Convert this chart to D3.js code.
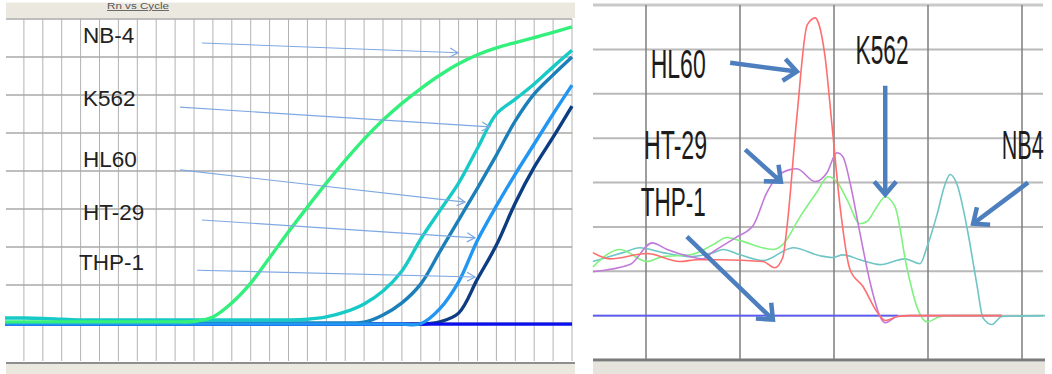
<!DOCTYPE html>
<html>
<head>
<meta charset="utf-8">
<script src="https://cdn.jsdelivr.net/npm/d3@7"></script>
<style>
body{margin:0;background:#fff}
svg{display:block}
</style>
</head>
<body>
<svg id="chart"></svg>
<script>
// ---- amplification plot (left) ----
var cycles = d3.range(0,31)
var ampNB4  = [1.03,1.03,1.03,1.03,1.03,1.03,1.03,1.03,1.03,1.03,1.04,1.16,1.53,2.05,2.72,3.4,4.05,4.68,5.28,5.84,6.34,6.78,7.17,7.52,7.82,8.06,8.24,8.38,8.51,8.65,8.79]
var ampK562 = [1.13,1.13,1.12,1.1,1.08,1.08,1.08,1.08,1.08,1.08,1.08,1.08,1.08,1.08,1.08,1.08,1.1,1.16,1.29,1.5,1.84,2.37,3.21,3.95,4.68,5.6,6.5,6.89,7.29,7.74,8.18]
var ampHL60 = [1,1,1,1,1,1,1,1,1,1,1,1,1,1,1,1,1,1,1,1.02,1.21,1.53,2.03,2.87,3.71,4.55,5.42,6.32,7.03,7.53,8.0]
var ampHT29 = [0.97,0.97,0.97,0.97,0.97,0.97,0.97,0.97,0.97,0.97,0.97,0.97,0.97,0.97,0.97,0.97,0.97,0.97,0.97,0.97,0.97,0.97,0.98,1.37,2.08,3.18,4.08,4.92,5.71,6.5,7.26]
var ampTHP1 = [0.97,0.97,0.97,0.97,0.97,0.97,0.97,0.97,0.97,0.97,0.97,0.97,0.97,0.97,0.97,0.97,0.97,0.97,0.97,0.97,0.97,0.97,0.97,1.03,1.26,2.16,3.05,4.16,5.1,5.89,6.71]
var ampNTC  = [0.97,0.97,0.97,0.97,0.97,0.97,0.97,0.97,0.97,0.97,0.97,0.97,0.97,0.97,0.97,0.97,0.97,0.97,0.97,0.97,0.97,0.97,0.97,0.97,0.97,0.97,0.97,0.97,0.97,0.97,0.97]

// labels on the left: name, label pos (cycle, Rn), arrow from -> to
var ampLabels = ["NB-4","K562","HL60","HT-29","THP-1"]
var ampLabelPos = [[4.13,8.37],[4.13,6.71],[4.13,5.11],[4.13,3.71],[3.92,2.39]]
var ampArrows = [[[10.42,8.37],[23.97,8.11]],[[9.26,6.68],[25.66,6.16]],[[9.26,5.03],[24.34,4.18]],[[10.42,3.71],[24.87,3.24]],[[10.16,2.39],[24.87,2.21]]]

// ---- melt curve (right) ----
var meltHL60 = [[74.87,1.42],[75.23,1.28],[76.02,1.4],[76.72,1.22],[77.09,1.26],[77.57,1.26],[78.49,1.22],[78.74,1.08],[78.91,1.31],[79.0,2.0],[79.21,4.48],[79.43,6.55],[79.6,6.71],[79.66,6.62],[79.81,5.83],[79.96,4.26],[80.13,2.45],[80.34,1.04],[80.62,0.65],[80.91,0.09],[81.09,-0.11],[81.36,-0.02],[81.62,0],[83.57,0]]
var meltHT29 = [[74.87,0.99],[75.66,1.15],[76.13,1.64],[76.45,1.49],[76.94,1.33],[77.21,1.28],[77.43,1.44],[77.94,1.78],[78.28,2.03],[78.57,2.77],[78.79,3.13],[79.06,3.29],[79.21,3.31],[79.6,3.02],[79.85,3.22],[80.06,3.67],[80.19,3.58],[80.34,3.0],[80.55,1.87],[80.77,0.74],[80.98,-0.02],[81.09,-0.16],[81.34,-0.02],[81.6,0],[83.57,0]]
var meltK562 = [[74.87,1.1],[75.45,1.49],[76.02,1.22],[76.36,1.33],[76.94,1.37],[77.43,1.6],[77.72,1.76],[78.0,1.69],[78.7,1.49],[78.91,1.6],[79.28,2.23],[79.64,2.79],[79.87,3.13],[80.06,3.02],[80.28,2.61],[80.55,2.07],[80.7,2.12],[80.91,2.45],[81.09,2.68],[81.3,2.45],[81.55,1.08],[81.77,0.18],[81.98,-0.14],[82.26,-0.02],[82.5,0],[83.57,0]]
var meltNB4 = [[74.87,1.22],[75.51,1.42],[75.87,1.53],[76.36,1.42],[76.94,1.33],[77.43,1.42],[77.64,1.49],[78.0,1.37],[78.49,1.24],[79.13,1.53],[79.7,1.35],[79.96,1.31],[80.19,1.37],[80.55,1.26],[80.98,1.15],[81.51,1.28],[81.83,1.17],[81.98,1.55],[82.19,2.27],[82.36,2.95],[82.47,3.18],[82.62,2.95],[82.83,1.98],[83.04,0.7],[83.17,-0.05],[83.36,-0.2],[83.57,-0.02],[84.49,0]]
var meltTHP1 = [[74.87,0],[81.36,0]]

var meltLabels = ["HL60","HT-29","THP-1","K562","NB4"]
var meltLabelPos = [[76.1,5.35],[75.96,3.52],[75.89,2.24],[80.46,5.67],[83.57,3.52]]
var meltLabelWidth = [55,63,65,53,42]
var meltArrows = [[[77.79,5.7],[79.21,5.5]],[[78.11,3.74],[78.87,3.02]],[[76.87,1.78],[78.7,-0.09]],[[81.09,5.18],[81.09,2.73]],[[84.13,3.0],[82.96,2.07]]]

var svg = d3.select("#chart").attr("width",1052).attr("height",374)

var defs = svg.append("defs")
defs.append("marker")
    .attr("id","thinHead")
    .attr("markerUnits","userSpaceOnUse")
    .attr("viewBox","-9 -6 10 12")
    .attr("markerWidth",10).attr("markerHeight",12)
    .attr("refX",0).attr("refY",0)
    .attr("orient","auto")
    .append("path")
    .attr("d","M-8,-4.5L0,0L-8,4.5")
    .attr("fill","none").attr("stroke","#7ea8e2").attr("stroke-width",1.2)
defs.append("marker")
    .attr("id","fatHead")
    .attr("markerUnits","userSpaceOnUse")
    .attr("viewBox","-18 -15 22 30")
    .attr("markerWidth",22).attr("markerHeight",30)
    .attr("refX",0).attr("refY",0)
    .attr("orient","auto")
    .append("path")
    .attr("d","M-13,-11L0,0L-13,11")
    .attr("fill","none").attr("stroke","#4d7fbe").attr("stroke-width",4.5)
    .attr("stroke-linejoin","miter")

// ================= left panel =================
var ampX = d3.scaleLinear().domain([0,30]).range([5,572])
var ampY = d3.scaleLinear().domain([0,9]).range([361,19])

var left = svg.append("g").attr("id","amp")

left.append("rect").attr("x",6).attr("y",2).attr("width",569).attr("height",16)
    .attr("fill","#ebe8e0")
left.append("line").attr("x1",6).attr("x2",575).attr("y1",2.5).attr("y2",2.5)
    .attr("stroke","#f6f5f1")
left.append("text").attr("x",107).attr("y",9)
    .attr("font-family","Liberation Sans, Arial, sans-serif").attr("font-size",8.5)
    .attr("fill","#555").attr("text-decoration","underline")
    .attr("textLength",62).attr("lengthAdjust","spacingAndGlyphs")
    .text("Rn vs Cycle")

left.append("g").selectAll("line").data(d3.range(1,31)).enter().append("line")
    .attr("x1",function(d){return ampX(d)}).attr("x2",function(d){return ampX(d)})
    .attr("y1",ampY(9)).attr("y2",ampY(0))
    .attr("stroke","#b2b2b2").attr("stroke-width",1)
left.append("g").selectAll("line").data(d3.range(1,10)).enter().append("line")
    .attr("x1",6).attr("x2",ampX(30))
    .attr("y1",function(d){return ampY(d)}).attr("y2",function(d){return ampY(d)})
    .attr("stroke","#a9a9a9").attr("stroke-width",1.5)

left.append("line").attr("x1",6).attr("x2",575).attr("y1",363).attr("y2",363)
    .attr("stroke","#8e8e8e").attr("stroke-width",2)
left.append("rect").attr("x",6).attr("y",364).attr("width",569).attr("height",10)
    .attr("fill","#ebe8e0")

var ampLine = d3.line()
    .x(function(v,i){return ampX(cycles[i])})
    .y(function(v){return ampY(v)})
    .curve(d3.curveCatmullRom.alpha(0.5))

var ampSeries = [
    {vals:ampTHP1,color:"#0c3d82"},
    {vals:ampNTC,color:"#0a0ff0"},
    {vals:ampHL60,color:"#1b7fb9"},
    {vals:ampHT29,color:"#2196f3"},
    {vals:ampK562,color:"#17cac6"},
    {vals:ampNB4,color:"#33f07c"}
]
left.append("g").selectAll("path").data(ampSeries).enter().append("path")
    .attr("d",function(s){return ampLine(s.vals)})
    .attr("fill","none")
    .attr("stroke",function(s){return s.color})
    .attr("stroke-width",3.4)

left.append("g").selectAll("line").data(ampArrows).enter().append("line")
    .attr("x1",function(a){return ampX(a[0][0])}).attr("y1",function(a){return ampY(a[0][1])})
    .attr("x2",function(a){return ampX(a[1][0])}).attr("y2",function(a){return ampY(a[1][1])})
    .attr("stroke","#7ea8e2").attr("stroke-width",1.1)
    .attr("marker-end","url(#thinHead)")

left.append("g").selectAll("text").data(ampLabels).enter().append("text")
    .attr("x",function(d,i){return ampX(ampLabelPos[i][0])})
    .attr("y",function(d,i){return ampY(ampLabelPos[i][1])})
    .attr("font-family","Liberation Sans, Arial, sans-serif")
    .attr("font-size",22.5)
    .attr("fill","#222")
    .text(function(d){return d})

// ================= right panel =================
var meltX = d3.scaleLinear().domain([74,84]).range([552,1022])
var meltY = d3.scaleLinear().domain([-1,7]).range([360,5])

var right = svg.append("g").attr("id","melt")

right.append("g").selectAll("line").data(d3.range(0,8)).enter().append("line")
    .attr("x1",593).attr("x2",1043)
    .attr("y1",function(d){return meltY(d)}).attr("y2",function(d){return meltY(d)})
    .attr("stroke",function(d){return d==7?"#c9c9c9":"#b9b9b9"})
    .attr("stroke-width",function(d){return d==7?3:2})
right.append("g").selectAll("line").data([76,78,80,82,84]).enter().append("line")
    .attr("x1",function(d){return meltX(d)}).attr("x2",function(d){return meltX(d)})
    .attr("y1",meltY(7)).attr("y2",meltY(-1))
    .attr("stroke","#7e7e7e").attr("stroke-width",1.5)

right.append("line").attr("x1",593).attr("x2",1045).attr("y1",meltY(-1)).attr("y2",meltY(-1))
    .attr("stroke","#7a7a7a").attr("stroke-width",3)
right.append("rect").attr("x",593).attr("y",362).attr("width",452).attr("height",12)
    .attr("fill","#e6e3dc")

var meltLine = d3.line()
    .x(function(p){return meltX(p[0])})
    .y(function(p){return meltY(p[1])})
    .curve(d3.curveMonotoneX)

var meltSeries = [
    {pts:meltNB4,color:"#6ec5c5"},
    {pts:meltTHP1,color:"#5a5aff"},
    {pts:meltK562,color:"#7ff27f"},
    {pts:meltHT29,color:"#c27ad8"},
    {pts:meltHL60,color:"#ff6e6e"}
]
right.append("g").selectAll("path").data(meltSeries).enter().append("path")
    .attr("d",function(s){return meltLine(s.pts)})
    .attr("fill","none")
    .attr("stroke",function(s){return s.color})
    .attr("stroke-width",1.6)

right.append("g").selectAll("line").data(meltArrows).enter().append("line")
    .attr("x1",function(a){return meltX(a[0][0])}).attr("y1",function(a){return meltY(a[0][1])})
    .attr("x2",function(a){return meltX(a[1][0])}).attr("y2",function(a){return meltY(a[1][1])})
    .attr("stroke","#4d7fbe").attr("stroke-width",4.5)
    .attr("marker-end","url(#fatHead)")

// condensed labels: squeeze each word horizontally to the width it has in the picture
right.append("g").selectAll("text").data(meltLabels).enter().append("text")
    .attr("font-family","Liberation Sans, Arial, sans-serif")
    .attr("font-size",40)
    .attr("fill","#1c1c1c")
    .text(function(d){return d})
    .attr("transform",function(d,i){
        var w = this.getComputedTextLength()
        var sx = meltLabelWidth[i]/w
        return "translate("+meltX(meltLabelPos[i][0])+","+meltY(meltLabelPos[i][1])+") scale("+sx+",1)"
    })
</script>
</body>
</html>
